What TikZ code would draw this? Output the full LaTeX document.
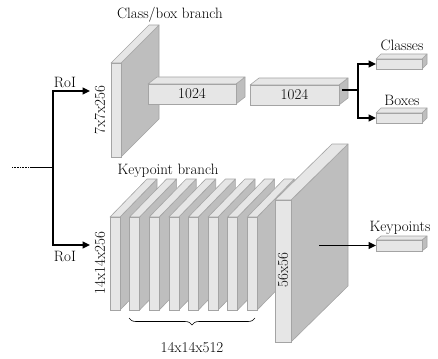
\documentclass[tikz,border=0pt]{standalone}
\usetikzlibrary{arrows.meta,decorations.pathreplacing}
\definecolor{facefront}{HTML}{E6E6E6}
\definecolor{faceside}{HTML}{BEBEBE}
\definecolor{faceedge}{HTML}{A4A4A4}
% cuboid: name, x, y (front top-left), width, height, depth dx, depth dy
\newcommand\cuboid[7]{%
  \node[frontface, minimum width=#4pt, minimum height=#5pt, anchor=north west] (#1) at (#2,#3) {};
  \fill[faceside, draw=faceedge, line width=0.6pt, line join=round]
    (#1.north east) -- ++(#6,-#7) -- ++(0,#5) -- (#1.south east) -- cycle;
  \fill[facefront, draw=faceedge, line width=0.6pt, line join=round]
    (#1.north west) -- ++(#6,-#7) -- ++(#4,0) -- (#1.north east) -- cycle;
  \node[frontface, minimum width=#4pt, minimum height=#5pt, anchor=north west] at (#2,#3) {};
}
\begin{document}
\begin{tikzpicture}[x=1pt,y=-1pt,
  frontface/.style={rectangle, fill=facefront, draw=faceedge, line width=0.6pt, inner sep=0pt, outer sep=0pt},
  lbl/.style={font=\fontsize{15}{18}\selectfont, inner sep=0pt},
  arr/.style={line width=1.3pt, -{Triangle[length=7.5pt,width=7pt]}},
  link/.style={line width=1.3pt}]
\useasboundingbox (0,0) rectangle (438,358);

% class/box branch
\cuboid{roiA}{111}{63}{10}{94}{38}{38}
\cuboid{fcA}{148}{84}{88}{20}{9}{7}
\cuboid{fcB}{250}{85}{89}{20}{9}{7}
\cuboid{cls}{376}{59}{46}{10}{5}{5}
\cuboid{box}{376}{113}{46}{10}{5}{5}
\node[lbl] (fcAt) at (fcA) {1024};
\node[lbl] (fcBt) at (fcB) {1024};
\node[lbl] (clsbr) at (170,15) {Class/box branch};
\node[lbl] (clst) at (402,45) {Classes};
\node[lbl] (boxt) at (402,100) {Boxes};
\node[lbl, rotate=90] (roiAt) at (100,110) {7x7x256};

% keypoint branch
\foreach \i in {0,...,7}{
  \cuboid{kp\i}{110+19.6*\i}{217}{10}{93}{37}{38}
}
\cuboid{up}{275}{200}{16}{142}{57}{56}
\cuboid{kpo}{376}{240}{46}{11}{5}{4}
\node[lbl] (kpbr) at (168,171) {Keypoint branch};
\node[lbl] (kpot) at (400,228) {Keypoints};
\node[lbl, rotate=90] (kpint) at (100,263) {14x14x256};
\node[lbl, rotate=90] (upt) at (283,270) {56x56};
\draw[decorate, decoration={brace, mirror, amplitude=7pt}, line width=0.6pt]
  (129,318) -- (255,318);
\node[lbl] (braceLbl) at (192,348) {14x14x512};

% RoI input and split
\coordinate (src) at (12,167);
\coordinate (srcEnd) at (32,167);
\coordinate (junc) at (53,167);
\coordinate (roiAin) at (90,91);
\coordinate (roiBin) at (90,245);
\draw[densely dotted, line width=0.6pt] (src) -- (srcEnd);
\draw[line width=0.6pt] (srcEnd) -- (junc);
\draw[arr] (junc) |- (roiAin);
\draw[arr] (junc) |- (roiBin);
\node[lbl] (roiAl) at (65,82) {RoI};
\node[lbl] (roiBl) at (65,256) {RoI};

% heads
\coordinate (fcBout) at (342,90);
\coordinate (split) at (358,90);
\draw[link] (fcBout) -- (split);
\draw[arr] (split) |- (cls.west);
\draw[arr] (split) |- (box.west);
\coordinate (upout) at (319,245.5);
\draw[arr] (upout) -- (upout -| kpo.west);
\end{tikzpicture}
\end{document}
